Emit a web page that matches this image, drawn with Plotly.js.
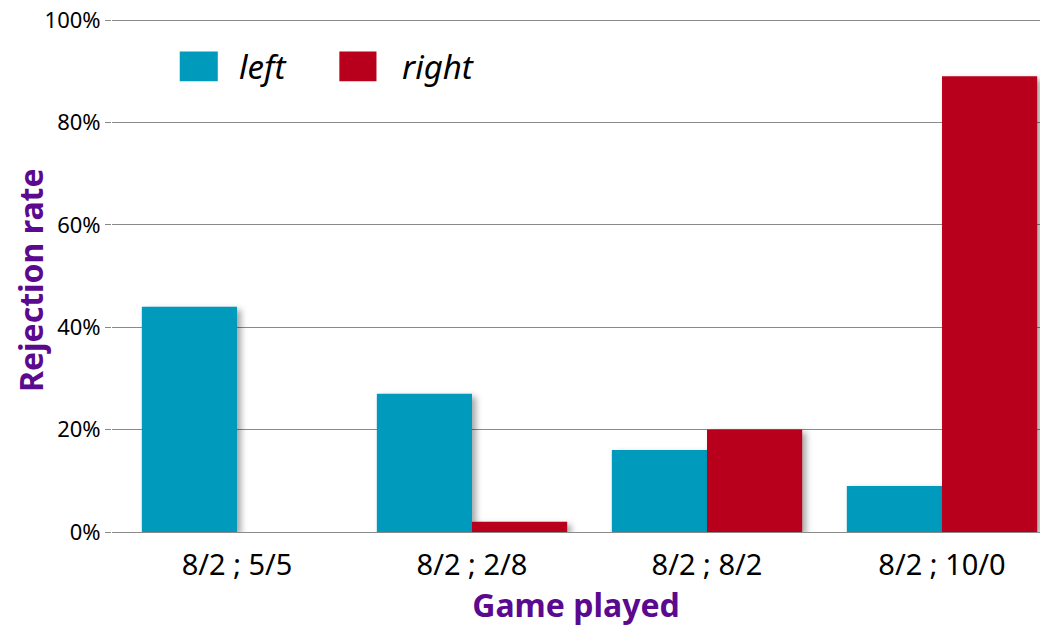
<!DOCTYPE html>
<html>
<head>
<meta charset="utf-8">
<script src="https://cdn.plot.ly/plotly-3.0.1.min.js"></script>
<style>
  html, body { margin: 0; padding: 0; background: #fff; }
  #chart { width: 1040px; height: 631px; }
  #chart .bars path { filter: drop-shadow(4px 3px 3px rgba(0,0,0,0.35)); }
</style>
</head>
<body>
<div id="chart"></div>
<script>
// Games and rejection rates (%) for each side
const games = ['8/2 ; 5/5', '8/2 ; 2/8', '8/2 ; 8/2', '8/2 ; 10/0'];
const leftRates = [44, 27, 16, 9];
const rightRates = [0, 2, 20, 89];
const seriesNames = ['left', 'right'];
const yTicks = [0, 20, 40, 60, 80, 100];
const yTickLabels = ['0%', '20%', '40%', '60%', '80%', '100%'];

const blue = '#009ABD';
const red = '#B8001C';
const purple = '#5B0A8F';
const font = 'Noto Sans, Open Sans, sans-serif';

const traces = [
  { type: 'bar', name: seriesNames[0], x: games, y: leftRates, marker: { color: blue }, hoverinfo: 'none' },
  { type: 'bar', name: seriesNames[1], x: games, y: rightRates, marker: { color: red }, hoverinfo: 'none' }
];

// Custom legend: large swatches with italic labels
const legendShapes = [
  { type: 'rect', xref: 'paper', yref: 'paper', x0: 0.073, x1: 0.114, y0: 0.877, y1: 0.935,
    fillcolor: blue, line: { width: 0 } },
  { type: 'rect', xref: 'paper', yref: 'paper', x0: 0.245, x1: 0.285, y0: 0.877, y1: 0.935,
    fillcolor: red, line: { width: 0 } }
];
const textNotes = [
  { xref: 'paper', yref: 'paper', x: 0.135, y: 0.906, xanchor: 'left', yanchor: 'middle',
    text: '<i>' + seriesNames[0] + '</i>', showarrow: false, font: { size: 33, color: '#000', family: font } },
  { xref: 'paper', yref: 'paper', x: 0.31, y: 0.906, xanchor: 'left', yanchor: 'middle',
    text: '<i>' + seriesNames[1] + '</i>', showarrow: false, font: { size: 33, color: '#000', family: font } },
  // Vertical axis title
  { xref: 'paper', yref: 'paper', x: -0.0884, y: 0.49, xanchor: 'center', yanchor: 'middle',
    textangle: -90, text: '<b>Rejection rate</b>', showarrow: false,
    font: { size: 32, color: purple, family: font } }
];

const layout = {
  width: 1040, height: 631,
  margin: { l: 112, r: 0, t: 18, b: 99 },
  paper_bgcolor: '#fff', plot_bgcolor: '#fff',
  barmode: 'group', bargap: 0.19, bargroupgap: 0,
  showlegend: false,
  font: { family: font, color: '#000' },
  xaxis: {
    range: [-0.532, 3.417],
    showgrid: false, zeroline: false,
    showline: false, ticks: '',
    ticklabelstandoff: 13,
    tickfont: { size: 29, color: '#000' },
    title: { text: '<b>Game played</b>', font: { size: 32, color: purple }, standoff: 5 },
    fixedrange: true
  },
  yaxis: {
    range: [0, 100.4],
    tickvals: yTicks, ticktext: yTickLabels,
    tickfont: { size: 22, color: '#000' },
    ticks: 'outside', ticklen: 6, tickcolor: '#888',
    showgrid: true, gridcolor: '#8a8a8a', gridwidth: 1,
    zeroline: true, zerolinecolor: '#8a8a8a', zerolinewidth: 1,
    showline: false,
    fixedrange: true
  },
  shapes: legendShapes,
  annotations: textNotes
};

Plotly.newPlot('chart', traces, layout, { displayModeBar: false, staticPlot: true });
</script>
</body>
</html>
